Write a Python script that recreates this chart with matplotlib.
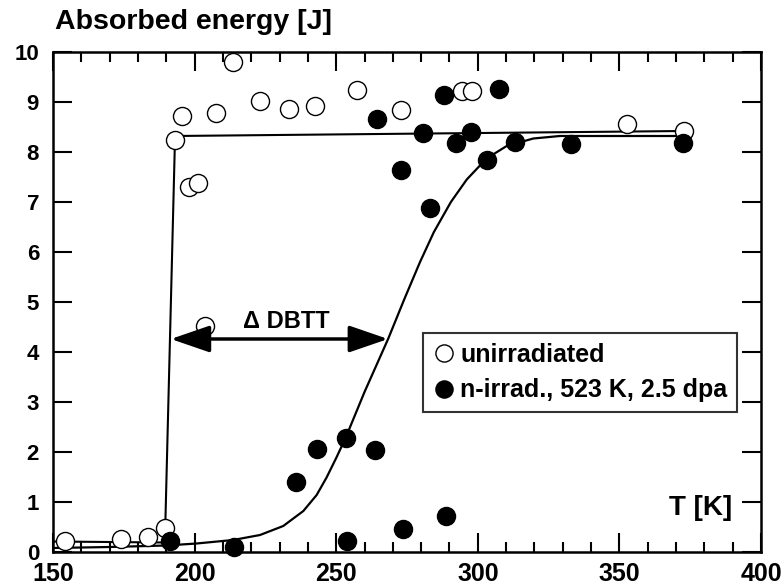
import matplotlib
matplotlib.use("Agg")
import matplotlib.pyplot as plt
from matplotlib.ticker import MultipleLocator

plt.rcParams['font.family'] = ['Liberation Sans', 'DejaVu Sans']
plt.rcParams['font.weight'] = 'bold'

# unirradiated data
unirr_T = [154.2, 174.0, 183.5, 189.5, 193.0, 195.4, 198.0, 201.2, 203.7, 207.6,
           213.5, 223.1, 233.2, 242.5, 257.5, 272.9, 294.3, 297.8, 352.8, 372.8]
unirr_E = [0.22, 0.26, 0.30, 0.48, 8.24, 8.72, 7.30, 7.38, 4.52, 8.79,
           9.81, 9.03, 8.87, 8.92, 9.25, 8.85, 9.23, 9.23, 8.56, 8.42]

# n-irradiated data
irr_T = [191.3, 213.9, 235.8, 243.1, 253.4, 253.7, 263.7, 273.5, 288.8, 264.3, 272.9,
         280.8, 283.1, 288.1, 292.3, 297.5, 303.1, 307.6, 313.1, 332.8, 372.3]
irr_E = [0.22, 0.11, 1.41, 2.06, 2.29, 0.22, 2.05, 0.47, 0.73, 8.67, 7.64,
         8.39, 6.88, 9.14, 8.19, 8.41, 7.85, 9.27, 8.21, 8.17, 8.19]

# unirradiated step line
step_T = [150.0, 189.5, 193.1, 372.8]
step_E = [0.21, 0.19, 8.32, 8.42]

# irradiated fit curve
curve_T = [150, 170, 190, 200.7, 213.6, 223.1, 231.3, 238.4, 243.1, 246.6, 250.0, 253.3,
           260.0, 268.4, 274.0, 279.6, 284.5, 290.5, 296.1, 303.1, 310.2, 319.6, 329.0,
           345.0, 372.5]
curve_E = [0.08, 0.10, 0.13, 0.17, 0.24, 0.34, 0.52, 0.82, 1.14, 1.49, 1.88, 2.28,
           3.20, 4.27, 5.05, 5.80, 6.40, 7.00, 7.45, 7.87, 8.12, 8.27, 8.32,
           8.32, 8.32]

x_ticks = [150, 200, 250, 300, 350, 400]
y_ticks = list(range(0, 11))

fig = plt.figure(figsize=(7.84, 5.88), dpi=100)
ax = fig.add_axes([53/784, 1-552/588, 708/784, 500/588])

ax.plot(step_T, step_E, color='black', lw=1.5, zorder=2)
ax.plot(curve_T, curve_E, color='black', lw=1.6, zorder=2)

ax.plot(unirr_T, unirr_E, 'o', ms=13, mfc='white', mec='black', mew=1.0,
        label='unirradiated', zorder=3, clip_on=False)
ax.plot(irr_T, irr_E, 'o', ms=13, mfc='black', mec='black', mew=1.0,
        label='n-irrad., 523 K, 2.5 dpa', zorder=4, clip_on=False)

ax.annotate('', xy=(191.6, 4.26), xytext=(268.3, 4.26),
            arrowprops=dict(arrowstyle='<|-|>,head_length=1.6,head_width=0.55',
                            mutation_scale=15, lw=2.5, color='black',
                            shrinkA=0, shrinkB=0), zorder=5)
ax.text(232.5, 4.62, 'Δ DBTT', ha='center', va='center', fontsize=17, fontweight='bold')

ax.text(378.5, 0.88, 'T [K]', ha='center', va='center', fontsize=20, fontweight='bold')
fig.text(55/784, 1-22/588, 'Absorbed energy [J]', ha='left', va='center',
         fontsize=20.5, fontweight='bold')

ax.set_xlim(150, 400)
ax.set_ylim(0, 10)
ax.set_xticks(x_ticks)
ax.set_yticks(y_ticks)
ax.xaxis.set_minor_locator(MultipleLocator(10))
ax.tick_params(which='both', direction='in', top=True, right=True, width=1.5)
ax.tick_params(which='major', length=14)
ax.tick_params(which='minor', length=7)
ax.tick_params(axis='x', which='major', labelsize=18, pad=7)
ax.tick_params(axis='y', which='major', labelsize=16, pad=10)
for lab in ax.get_xticklabels() + ax.get_yticklabels():
    lab.set_fontweight('bold')
for s in ax.spines.values():
    s.set_linewidth(1.8)

leg = ax.legend(loc='upper left', bbox_to_anchor=(0.522, 0.438), borderaxespad=0,
                frameon=True, fancybox=False, edgecolor='black', fontsize=18,
                handletextpad=0.2, handlelength=0.9, borderpad=0.4, labelspacing=0.45,
                markerscale=0.95)
leg.get_frame().set_linewidth(1.5)
for t in leg.get_texts():
    t.set_fontweight('bold')

fig.savefig('out.png', dpi=100)
